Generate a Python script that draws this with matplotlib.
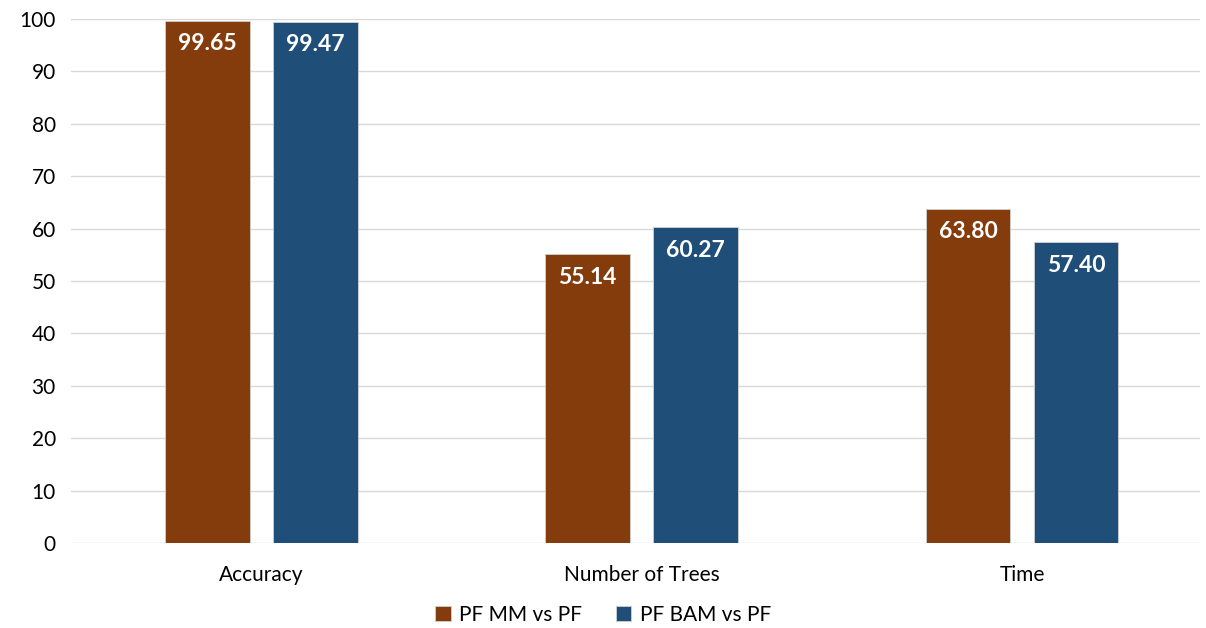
import numpy as np
import matplotlib.pyplot as plt

plt.rcParams['font.family'] = ['Lato', 'DejaVu Sans']

categories = ['Accuracy', 'Number of Trees', 'Time']
series_names = ['PF MM vs PF', 'PF BAM vs PF']
mm_vals = [99.65, 55.14, 63.80]
bam_vals = [99.47, 60.27, 57.40]
colors = ['#843C0C', '#1F4E79']

fig = plt.figure(figsize=(12.06, 6.28), dpi=100)
ax = fig.add_axes([0.0589, 0.135, 0.9362, 0.835])

x = np.arange(len(categories))
w = 0.223
off = 0.142

for vals, name, col, sgn in [(mm_vals, series_names[0], colors[0], -1),
                             (bam_vals, series_names[1], colors[1], 1)]:
    bars = ax.bar(x + sgn * off, vals, w, color=col, label=name,
                  edgecolor='#d0d0d0', linewidth=0.6, zorder=3)
    for b, v in zip(bars, vals):
        ax.annotate('%.2f' % v, (b.get_x() + b.get_width() / 2, v),
                    xytext=(0, -9), textcoords='offset points',
                    ha='center', va='top', color='white',
                    fontsize=16.5, fontweight='bold', zorder=4)

ax.set_xlim(-0.5, 2.468)
ax.set_ylim(0, 100)
ax.set_yticks(np.arange(0, 101, 10))
ax.set_xticks(x)
ax.set_xticklabels(categories)
ax.tick_params(axis='both', length=0, labelsize=15, colors='#000000')
ax.tick_params(axis='y', pad=11)
ax.tick_params(axis='x', pad=16)
ax.grid(axis='y', color='#d9d9d9', linewidth=1, zorder=0)
for s in ax.spines.values():
    s.set_visible(False)

fig.legend(loc='lower center', bbox_to_anchor=(0.5, -0.025), ncol=2,
           frameon=False, fontsize=15, handlelength=0.75, handleheight=0.75,
           columnspacing=1.6, handletextpad=0.4)

fig.savefig('out.png', dpi=100)
